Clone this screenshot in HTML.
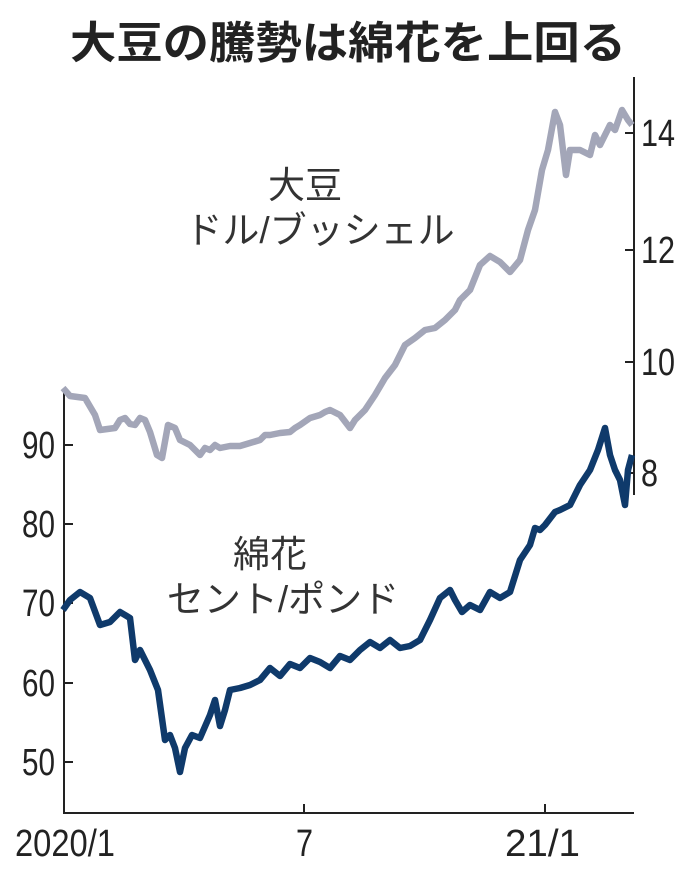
<!DOCTYPE html>
<html><head><meta charset="utf-8"><style>
body{margin:0;background:#fff;width:696px;height:882px;overflow:hidden}
svg{display:block}
text{font-family:"Liberation Sans","Noto Sans CJK JP",sans-serif;fill:#222}
.j{font-family:"Liberation Sans","Noto Sans CJK JP",sans-serif;font-size:37px;fill:#333}
.t{font-size:38px;fill:#222}
</style></head><body>
<svg width="696" height="882" viewBox="0 0 696 882">
<text x="348" y="58" text-anchor="middle" textLength="556" lengthAdjust="spacingAndGlyphs" style="font-family:'Noto Sans CJK JP',sans-serif;font-weight:bold;font-size:44px;fill:#222">大豆の騰勢は綿花を上回る</text>
<g stroke="#222" stroke-width="2" fill="none">
<path d="M64 390V813H634"/>
<path d="M634 77V495"/>
<path d="M64 445h9M64 524h9M64 603h9M64 683h9M64 762h9"/>
<path d="M634 133h-9M634 250h-9M634 362h-9M634 473h-9"/>
<path d="M304 813v-9M545 813v-9"/>
</g>
<g class="t">
<text x="22" y="458" textLength="33" lengthAdjust="spacingAndGlyphs">90</text>
<text x="22" y="537" textLength="33" lengthAdjust="spacingAndGlyphs">80</text>
<text x="22" y="616" textLength="33" lengthAdjust="spacingAndGlyphs">70</text>
<text x="22" y="696" textLength="33" lengthAdjust="spacingAndGlyphs">60</text>
<text x="22" y="775" textLength="33" lengthAdjust="spacingAndGlyphs">50</text>
<text x="641" y="146" textLength="34" lengthAdjust="spacingAndGlyphs">14</text>
<text x="641" y="263" textLength="34" lengthAdjust="spacingAndGlyphs">12</text>
<text x="641" y="375" textLength="34" lengthAdjust="spacingAndGlyphs">10</text>
<text x="641" y="486" textLength="17" lengthAdjust="spacingAndGlyphs">8</text>
<text x="15" y="856" textLength="100" lengthAdjust="spacingAndGlyphs">2020/1</text>
<text x="296" y="856" textLength="17" lengthAdjust="spacingAndGlyphs">7</text>
<text x="505" y="856" textLength="75" lengthAdjust="spacingAndGlyphs">21/1</text>
</g>
<text class="j" x="305" y="198" text-anchor="middle">大豆</text>
<text class="j" x="320" y="243" text-anchor="middle">ドル/ブッシェル</text>
<text class="j" x="270" y="567" text-anchor="middle">綿花</text>
<text class="j" x="283" y="612" text-anchor="middle">セント/ポンド</text>
<polyline fill="none" stroke="#a3a6b8" stroke-width="6.5" stroke-linejoin="round" points="63,388 70,396 85,398 95,415 100,430 115,428 120,420 125,418 130,424 135,425 140,418 145,420 150,432 157,455 162,458 168,425 175,428 180,440 190,445 195,450 200,455 205,448 210,450 215,445 220,448 230,446 240,446 250,443 260,440 265,435 270,435 280,433 290,432 295,428 300,425 310,418 320,415 325,412 330,410 340,415 350,428 355,420 365,410 375,395 385,378 395,365 405,345 415,338 425,330 435,328 445,320 455,310 460,300 470,290 480,265 490,256 500,262 510,272 520,260 528,230 535,210 542,170 548,150 555,112 560,125 566,175 570,150 580,150 590,155 595,135 600,145 610,125 615,130 622,110 628,120 632,125"/>
<polyline fill="none" stroke="#0f3a6b" stroke-width="6.5" stroke-linejoin="round" points="63,610 70,600 80,592 90,598 100,625 110,622 120,612 130,618 135,660 140,650 150,670 158,690 165,740 170,735 175,748 180,772 185,748 192,735 200,738 210,715 215,700 220,726 225,710 230,690 240,688 250,685 260,680 270,668 280,676 290,664 300,668 310,658 320,662 330,668 340,656 350,660 360,650 370,642 380,648 390,640 400,648 410,646 420,640 430,620 440,598 450,590 455,600 462,612 470,605 480,610 490,592 500,598 510,592 520,560 530,545 535,528 540,530 545,525 555,512 560,510 570,505 580,485 590,470 598,450 605,428 610,455 615,470 620,480 625,505 628,470 632,455"/>
</svg>
</body></html>
